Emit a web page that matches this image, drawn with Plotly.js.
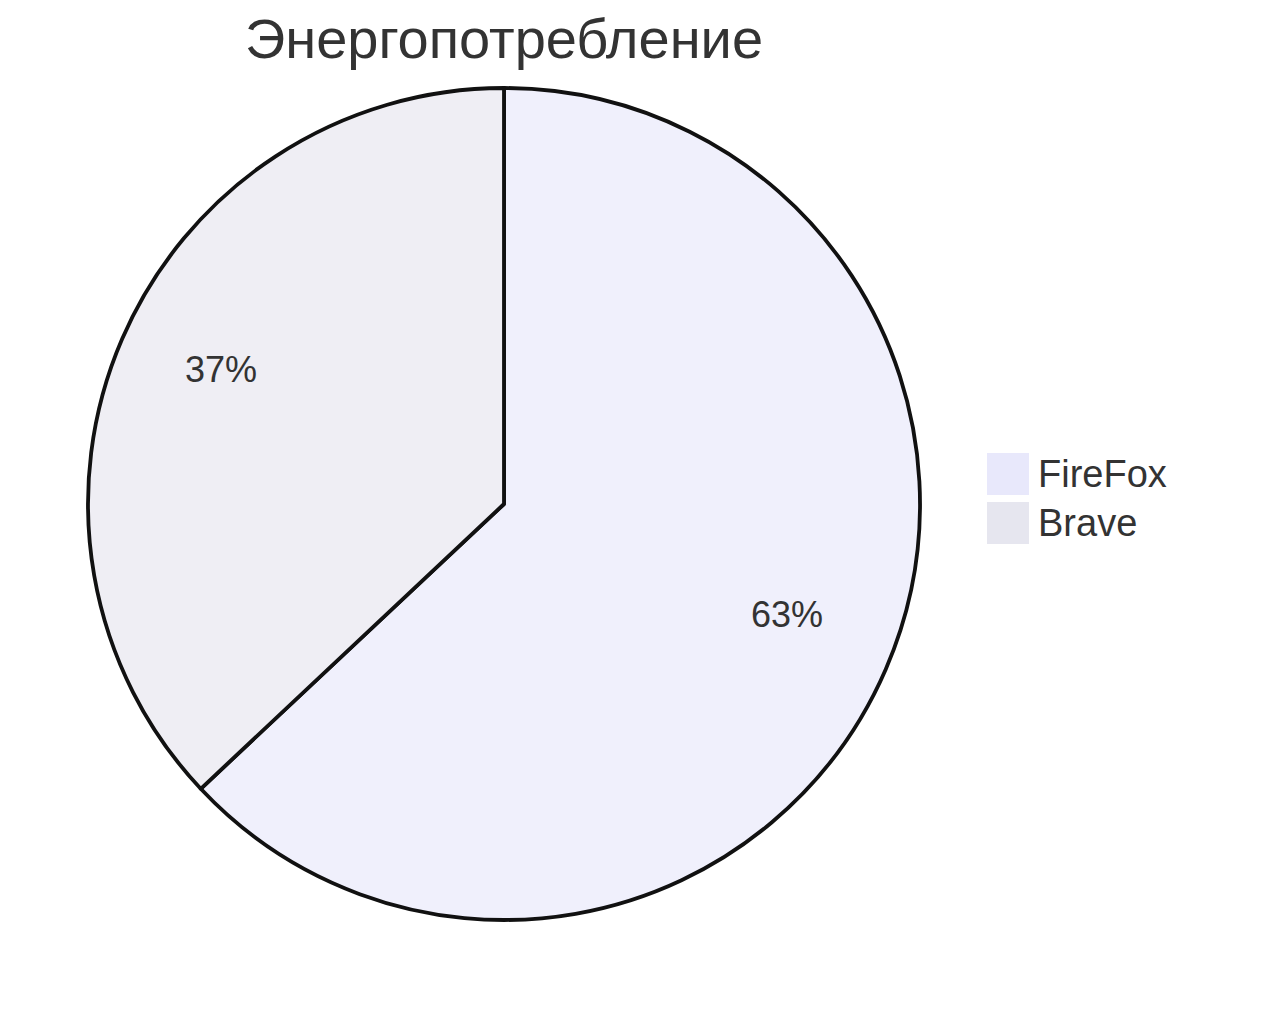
<!DOCTYPE html>
<html><head><meta charset="utf-8">
<script src="https://cdn.plot.ly/plotly-3.0.1.min.js"></script>
<style>html,body{margin:0;padding:0;background:#fff}</style>
</head><body>
<div id="chart" style="width:1280px;height:1010px"></div>
<script>
const labels = ["FireFox", "Brave"];
const values = [63, 37];
const colors = ["#F0F0FC", "#EFEEF4"];
const legendColors = ["#E8E8FB", "#E6E6EF"];
const chartTitle = "Энергопотребление";

const W = 1280, H = 1010, mt = 88, mb = 90;
const plotH = H - mt - mb;
const cx = 504 / W, cy = 0.5;            // pie centre in paper coords
const rx = 416 / W, ry = 416 / plotH;   // radius in paper units
const total = values.reduce((a, b) => a + b, 0);

// percentage labels placed along each slice's bisector
const annotations = [];
let cum = 0;
values.forEach((v, i) => {
  const mid = (cum + v / 2) / total;
  cum += v;
  const th = 2 * Math.PI * mid;
  annotations.push({
    xref: "paper", yref: "paper",
    x: cx + 0.74 * rx * Math.sin(th),
    y: cy + 0.74 * ry * Math.cos(th),
    xanchor: "center", yanchor: "middle",
    text: Math.round(100 * v / total) + "%",
    showarrow: false, yshift: 12,
    font: {size: 36, color: "#333"}
  });
});

// legend: large swatches + labels
const shapes = [];
const legX0 = 987 / W, legX1 = 1029 / W, legTextX = 1036 / W;
labels.forEach((lab, i) => {
  const top = 453 + i * 49, bot = top + 42;
  shapes.push({
    type: "rect", xref: "paper", yref: "paper",
    x0: legX0, x1: legX1,
    y0: 1 - (bot - mt) / plotH, y1: 1 - (top - mt) / plotH,
    fillcolor: legendColors[i], line: {width: 0}
  });
  annotations.push({
    xref: "paper", yref: "paper", x: legTextX, xanchor: "left",
    y: 1 - ((top + bot) / 2 - mt) / plotH, yanchor: "middle",
    text: lab, showarrow: false, font: {size: 38, color: "#333"}
  });
});

Plotly.newPlot("chart", [{
  type: "pie",
  labels: labels,
  values: values,
  sort: false,
  direction: "clockwise",
  rotation: 0,
  textinfo: "none",
  marker: {colors: colors, line: {color: "#111", width: 3.8}},
  domain: {x: [88 / W, 920 / W], y: [0, 1]},
  hoverinfo: "none",
  showlegend: false
}], {
  width: W, height: H,
  margin: {l: 0, r: 0, t: mt, b: mb},
  font: {family: "Arial, 'Liberation Sans', sans-serif", color: "#333"},
  title: {text: chartTitle, font: {size: 56, color: "#333"}, x: 504 / W, xanchor: "center", y: 1 - 38 / H, yanchor: "middle"},
  showlegend: false,
  annotations: annotations,
  shapes: shapes,
  paper_bgcolor: "#fff"
}, {displayModeBar: false});
</script>
</body></html>
